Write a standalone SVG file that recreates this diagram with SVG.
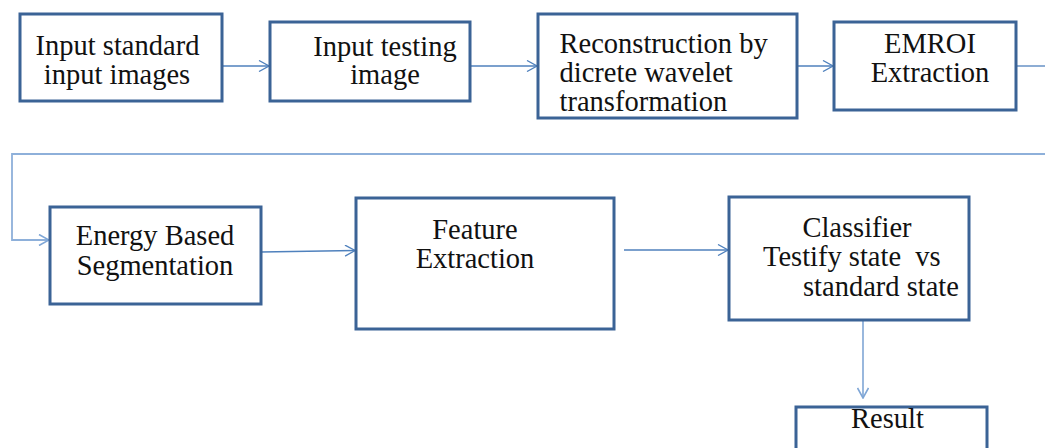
<svg xmlns="http://www.w3.org/2000/svg" width="1045" height="448" viewBox="0 0 1045 448">
  <style>
    .box { fill: #ffffff; stroke: #3b6396; stroke-width: 3; }
    .lbl { font-family: "Liberation Serif", "Times New Roman", serif; font-size: 28.5px; fill: #111111; }
    .mid { text-anchor: middle; }
    .conn { fill: none; stroke: #4f81bd; stroke-width: 1.3; }
    .soft { stroke: #8eb0da; stroke-width: 1.8; }
  </style>
  <defs>
    <marker id="chev" viewBox="0 0 12 12" refX="11" refY="6" markerWidth="12" markerHeight="12" markerUnits="userSpaceOnUse" orient="auto">
      <path d="M1,0.5 L11,6 L1,11.5" fill="none" stroke="#4f81bd" stroke-width="1.3"/>
    </marker>
    <marker id="chevSoft" viewBox="0 0 12 12" refX="11" refY="6" markerWidth="12" markerHeight="12" markerUnits="userSpaceOnUse" orient="auto">
      <path d="M1,0.5 L11,6 L1,11.5" fill="none" stroke="#7ea6d6" stroke-width="1.6"/>
    </marker>
  </defs>

  <rect width="1045" height="448" fill="#ffffff"/>

  <!-- connectors -->
  <g id="connectors">
    <line class="conn" x1="222" y1="66" x2="269" y2="66" marker-end="url(#chev)"/>
    <line class="conn" x1="470" y1="66" x2="537" y2="66" marker-end="url(#chev)"/>
    <line class="conn" x1="797" y1="66" x2="833" y2="66" marker-end="url(#chev)"/>
    <line class="conn" x1="1016" y1="66" x2="1045" y2="66"/>
    <path class="conn soft" d="M1045,154 H12 V240 H49" marker-end="url(#chevSoft)"/>
    <line class="conn" x1="261" y1="252" x2="355" y2="250.5" marker-end="url(#chev)"/>
    <line class="conn" x1="624" y1="250" x2="728" y2="250" marker-end="url(#chev)"/>
    <line class="conn soft" x1="863" y1="320" x2="863" y2="398" marker-end="url(#chevSoft)"/>
  </g>

  <g id="input-standard">
    <rect class="box" x="20" y="14" width="202" height="87"/>
    <text class="lbl mid" x="117.5" y="55">Input standard</text>
    <text class="lbl mid" x="117" y="84">input images</text>
  </g>

  <g id="input-testing">
    <rect class="box" x="270" y="22" width="200" height="79"/>
    <text class="lbl mid" x="385" y="56">Input testing</text>
    <text class="lbl mid" x="385" y="84">image</text>
  </g>

  <g id="reconstruction">
    <rect class="box" x="538" y="14" width="259" height="104"/>
    <text class="lbl" x="559.5" y="53">Reconstruction by</text>
    <text class="lbl" x="559.5" y="82">dicrete wavelet</text>
    <text class="lbl" x="559.5" y="111">transformation</text>
  </g>

  <g id="emroi">
    <rect class="box" x="834" y="22" width="182" height="88"/>
    <text class="lbl mid" x="930" y="53">EMROI</text>
    <text class="lbl mid" x="930" y="82">Extraction</text>
  </g>

  <g id="segmentation">
    <rect class="box" x="50" y="207" width="211" height="97"/>
    <text class="lbl mid" x="155" y="245">Energy Based</text>
    <text class="lbl mid" x="155" y="275">Segmentation</text>
  </g>

  <g id="feature">
    <rect class="box" x="356" y="198" width="258" height="131"/>
    <text class="lbl mid" x="475" y="239">Feature</text>
    <text class="lbl mid" x="475" y="268">Extraction</text>
  </g>

  <g id="classifier">
    <rect class="box" x="729" y="197" width="240" height="123"/>
    <text class="lbl mid" x="857" y="237">Classifier</text>
    <text class="lbl" x="763" y="266" xml:space="preserve">Testify state  vs</text>
    <text class="lbl" x="803" y="296">standard state</text>
  </g>

  <g id="result">
    <rect class="box" x="796" y="407" width="191" height="60"/>
    <text class="lbl mid" x="887.5" y="428">Result</text>
  </g>
</svg>
